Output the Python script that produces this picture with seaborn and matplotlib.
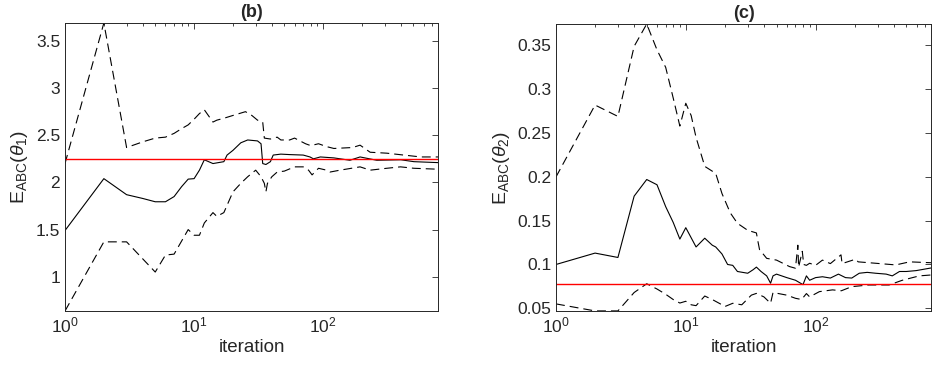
import numpy as np
import pandas as pd
import seaborn as sns
import matplotlib
matplotlib.use("Agg")
import matplotlib.pyplot as plt
from matplotlib.ticker import FixedLocator, FixedFormatter, LogLocator, NullFormatter

# panel (b): E_ABC(theta_1)
b_mean_x = [1, 2, 3, 4, 5, 6, 7, 8, 9, 10, 11, 12, 14, 17, 18, 20, 23, 26, 31, 33,
            34, 36, 39, 41, 47, 55, 70, 79, 84, 95, 121, 161, 193, 260, 400, 504, 775]
b_mean_y = [1.49, 2.04, 1.87, 1.83, 1.795, 1.795, 1.85, 1.955, 2.035, 2.04, 2.13, 2.24, 2.20, 2.22, 2.29, 2.34, 2.42, 2.45, 2.44, 2.41,
            2.20, 2.19, 2.22, 2.29, 2.30, 2.295, 2.29, 2.27, 2.25, 2.27, 2.26, 2.235, 2.27, 2.235, 2.24, 2.22, 2.21]
b_up_x = [1, 2, 3, 4, 5, 6, 7, 8, 9, 10, 11, 12, 14, 15, 17, 20, 25, 28, 31, 34,
          35, 39, 44, 47, 55, 60, 73, 80, 92, 106, 121, 169, 193, 231, 311, 421, 571, 775]
b_up_y = [2.20, 3.69, 2.37, 2.43, 2.47, 2.48, 2.52, 2.57, 2.61, 2.67, 2.73, 2.77, 2.64, 2.66, 2.68, 2.71, 2.75, 2.71, 2.66, 2.64,
          2.47, 2.46, 2.48, 2.45, 2.45, 2.47, 2.41, 2.39, 2.41, 2.38, 2.36, 2.37, 2.395, 2.32, 2.31, 2.29, 2.27, 2.27]
b_lo_x = [1, 2, 3, 5, 6, 7, 9, 10, 11, 12, 14, 15, 17, 20, 23, 26, 30, 33, 35, 36,
          37, 40, 44, 50, 60, 70, 77, 82, 92, 106, 113, 135, 193, 231, 311, 397, 504, 775]
b_lo_y = [0.637, 1.37, 1.37, 1.05, 1.23, 1.24, 1.50, 1.44, 1.44, 1.57, 1.68, 1.64, 1.68, 1.90, 1.99, 2.06, 2.13, 2.06, 1.99, 1.90,
          1.99, 2.06, 2.11, 2.12, 2.165, 2.165, 2.13, 2.08, 2.15, 2.13, 2.11, 2.13, 2.165, 2.13, 2.15, 2.165, 2.15, 2.14]
b_true = 2.25
b_yticks = [1, 1.5, 2, 2.5, 3, 3.5]
b_yticklabels = ["1", "1.5", "2", "2.5", "3", "3.5"]

# panel (c): E_ABC(theta_2)
c_mean_x = [1, 2, 3, 4, 5, 6, 7, 8, 9, 10, 12, 14, 16, 17, 19, 21, 23, 25, 30, 33,
            35, 38, 42, 45, 47, 50, 60, 70, 80, 85, 90, 100, 113, 130, 150, 170, 190, 217, 250, 290,
            350, 390, 443, 500, 595, 775]
c_mean_y = [0.100, 0.113, 0.108, 0.178, 0.197, 0.191, 0.166, 0.148, 0.129, 0.142, 0.120, 0.130, 0.122, 0.120, 0.112, 0.100, 0.099, 0.092, 0.090, 0.094,
            0.097, 0.092, 0.087, 0.0786, 0.087, 0.089, 0.085, 0.082, 0.077, 0.087, 0.082, 0.085, 0.086, 0.0845, 0.089, 0.085, 0.0845, 0.090, 0.091, 0.090,
            0.089, 0.087, 0.092, 0.092, 0.093, 0.096]
c_up_x = [1, 2, 3, 4, 5, 6, 7, 8, 9, 10, 11, 12, 14, 17, 19, 22, 25, 30, 35, 36,
          37, 42, 50, 63, 70, 73, 74, 79, 81, 85, 90, 100, 113, 130, 157, 160, 203, 213, 290, 415,
          530, 775]
c_up_y = [0.200, 0.282, 0.269, 0.349, 0.3745, 0.345, 0.325, 0.290, 0.258, 0.284, 0.270, 0.245, 0.212, 0.204, 0.181, 0.159, 0.147, 0.139, 0.136, 0.126,
          0.117, 0.107, 0.105, 0.0976, 0.0957, 0.122, 0.097, 0.115, 0.100, 0.099, 0.1014, 0.099, 0.105, 0.101, 0.111, 0.101, 0.106, 0.103, 0.1014, 0.0995,
          0.103, 0.102]
c_lo_x = [1, 2, 3, 4, 5, 6, 7, 8, 9, 10, 11, 12, 14, 16, 19, 20, 23, 27, 32, 35,
          40, 45, 47, 60, 70, 78, 85, 90, 107, 135, 158, 190, 257, 368, 466, 630, 775]
c_lo_y = [0.055, 0.047, 0.047, 0.068, 0.078, 0.072, 0.066, 0.060, 0.056, 0.058, 0.054, 0.053, 0.064, 0.060, 0.054, 0.052, 0.0557, 0.054, 0.065, 0.067,
          0.063, 0.0557, 0.068, 0.065, 0.0614, 0.060, 0.0668, 0.063, 0.069, 0.071, 0.070, 0.0747, 0.0766, 0.0766, 0.082, 0.087, 0.088]
c_true = 0.0775
c_yticks = [0.05, 0.1, 0.15, 0.2, 0.25, 0.3, 0.35]
c_yticklabels = ["0.05", "0.1", "0.15", "0.2", "0.25", "0.3", "0.35"]

x_max = 775

sns.set_style("white")
plt.rcParams["font.family"] = ["Liberation Sans", "DejaVu Sans"]
plt.rcParams["mathtext.fontset"] = "custom"
plt.rcParams["mathtext.rm"] = "Liberation Sans"
plt.rcParams["mathtext.it"] = "Liberation Sans:italic"
plt.rcParams["mathtext.default"] = "regular"

fig = plt.figure(figsize=(9.35, 3.67), dpi=100)
ax_b = fig.add_axes([65 / 935, 1 - 311 / 367, (438 - 65) / 935, (311 - 23) / 367])
ax_c = fig.add_axes([556 / 935, 1 - 311 / 367, (931 - 556) / 935, (311 - 24) / 367])

axis_col = "#262626"
dash = (8, 4.5)


def draw(ax, mx, my, ux, uy, lx, ly, truth, ylim, yticks, ylabels, title, ylabel):
    sns.lineplot(x=ux, y=uy, ax=ax, color="black", lw=0.8, dashes=False, estimator=None).lines[-1].set_dashes(dash)
    sns.lineplot(x=lx, y=ly, ax=ax, color="black", lw=0.8, estimator=None).lines[-1].set_dashes(dash)
    sns.lineplot(x=mx, y=my, ax=ax, color="black", lw=0.8, estimator=None)
    ax.axhline(truth, color="red", lw=1.0)
    ax.set_xscale("log")
    ax.set_xlim(1, x_max)
    ax.set_ylim(*ylim)
    ax.xaxis.set_major_locator(LogLocator(base=10))
    ax.xaxis.set_minor_locator(LogLocator(base=10, subs=np.arange(2, 10)))
    ax.xaxis.set_minor_formatter(NullFormatter())
    ax.yaxis.set_major_locator(FixedLocator(yticks))
    ax.yaxis.set_major_formatter(FixedFormatter(ylabels))
    ax.tick_params(which="both", direction="in", top=True, right=True,
                   colors=axis_col, labelsize=12.5, width=0.6)
    ax.tick_params(which="major", length=4.5)
    ax.tick_params(which="minor", length=2.5)
    for s in ax.spines.values():
        s.set_color(axis_col)
        s.set_linewidth(0.7)
    ax.set_xlabel("iteration", fontsize=13.5, color=axis_col, labelpad=2)
    ax.set_ylabel(ylabel, fontsize=14, color=axis_col, labelpad=4)
    ax.set_title(title, fontsize=13, fontweight="bold", pad=4)


draw(ax_b, b_mean_x, b_mean_y, b_up_x, b_up_y, b_lo_x, b_lo_y, b_true,
     (0.637, 3.69), b_yticks, b_yticklabels, "(b)", r"E$_{ABC}$($\mathit{\theta}_1$)")
draw(ax_c, c_mean_x, c_mean_y, c_up_x, c_up_y, c_lo_x, c_lo_y, c_true,
     (0.0469, 0.3745), c_yticks, c_yticklabels, "(c)", r"E$_{ABC}$($\mathit{\theta}_2$)")

fig.savefig("out.png", dpi=100)
